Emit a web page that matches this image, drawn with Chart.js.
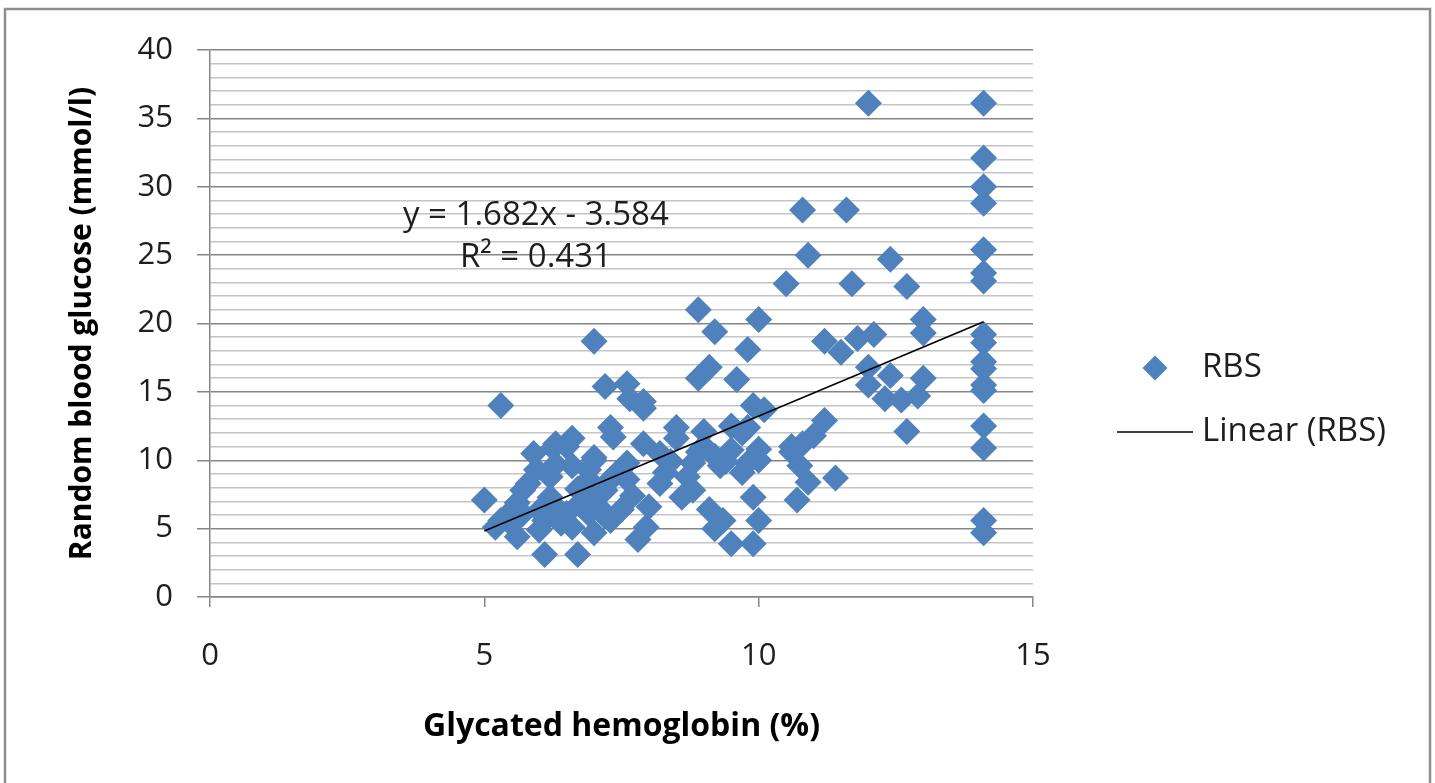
<!DOCTYPE html>
<html>
<head>
<meta charset="utf-8">
<title>RBS vs HbA1c</title>
<script src="https://cdn.jsdelivr.net/npm/chart.js@4.4.1/dist/chart.umd.min.js"></script>
<style>
  html, body { margin: 0; padding: 0; background: #fff; }
  #wrap { width: 1435px; height: 783px; }
</style>
</head>
<body>
<div id="wrap"><canvas id="scatterChart" width="1435" height="783"></canvas></div>
<script>
// glycated hemoglobin (%) and random blood glucose (mmol/l)
const hba1c = [
  14.1, 14.1, 14.1, 14.1, 14.1, 14.1, 14.1, 14.1, 14.1, 14.1, 14.1, 14.1, 14.1, 14.1, 14.1, 14.1, 14.1,
  12.0, 10.8, 11.6, 10.9, 12.4, 10.5, 11.7, 12.7, 10.0, 13.0, 13.0,
  9.8, 11.2, 11.5, 11.8, 12.1, 9.6,
  12.0, 12.0, 12.3, 12.4, 12.6, 13.0, 12.9, 12.7,
  9.9, 10.1, 11.2, 11.0, 10.8, 10.6, 11.4, 10.9, 10.7, 10.75, 9.9, 10.0, 9.9, 9.7, 9.8, 10.0, 9.7,
  8.9, 7.0, 9.2, 9.1, 8.9, 7.2, 7.6, 7.65, 7.9, 7.9,
  7.3, 8.5, 9.0, 9.5, 9.8,
  5.9, 6.3, 6.6, 7.0, 7.35, 7.9, 8.2, 8.5,
  5.3, 5.0, 6.1, 6.7,
  6.25, 7.0, 7.6, 8.8, 9.2, 9.5, 10.0,
  5.8, 6.2, 6.5, 6.75, 7.2, 7.6, 8.0, 8.2, 8.6, 8.8, 9.1, 9.35, 9.5, 9.2,
  5.3, 5.6, 6.0, 6.6, 7.0, 7.3, 7.8, 7.95, 5.2, 5.4, 5.7, 6.1, 6.3, 6.9, 7.2, 7.5,
  6.5, 5.95, 5.7, 6.2, 6.9, 7.0, 6.8,
  10.6, 8.3, 8.7, 9.3, 7.4, 6.6,
  5.6, 6.0, 6.4, 6.7, 7.1, 7.7, 6.3, 6.9, 7.3, 8.4, 8.9, 9.4, 9.0, 5.5
];
const rbs = [
  36.1, 32.1, 30.0, 28.8, 25.4, 23.7, 23.1, 19.2, 18.6, 17.2, 16.7, 15.5, 15.1, 12.5, 10.9, 5.6, 4.7,
  36.1, 28.3, 28.3, 25.0, 24.7, 22.9, 22.9, 22.7, 20.3, 20.3, 19.3,
  18.1, 18.7, 17.9, 18.9, 19.2, 15.9,
  16.8, 15.5, 14.5, 16.2, 14.4, 16.0, 14.7, 12.1,
  14.0, 13.7, 12.9, 11.8, 11.2, 10.6, 8.7, 8.4, 7.1, 9.6, 7.3, 5.6, 3.9, 9.1, 9.8, 10.8, 12.0,
  21.0, 18.7, 19.4, 16.8, 16.0, 15.4, 15.6, 14.5, 13.8, 14.3,
  12.4, 12.4, 12.1, 12.5, 12.4,
  10.5, 11.2, 11.6, 10.2, 11.7, 11.2, 10.5, 11.6,
  14.0, 7.1, 3.1, 3.1,
  10.9, 10.0, 9.8, 9.8, 10.3, 10.75, 10.0,
  8.3, 7.3, 6.1, 6.9, 7.8, 8.6, 6.6, 8.3, 7.3, 7.8, 6.4, 5.6, 3.9, 5.0,
  5.6, 4.4, 4.9, 5.1, 4.7, 5.6, 4.2, 5.1, 5.1, 5.9, 6.1, 5.6, 6.6, 6.1, 5.9, 6.4,
  11.0, 9.3, 7.8, 8.8, 8.6, 7.3, 7.6,
  11.0, 9.1, 8.8, 9.6, 9.0, 9.6,
  6.9, 6.3, 5.4, 7.9, 6.5, 7.4, 9.7, 9.3, 8.6, 9.9, 10.6, 9.9, 11.0, 5.3
];

// fitted line as shown on the chart (y = 1.682x - 3.584), ends
const trendX = [5.0, 14.1];
const trendY = [4.83, 20.13];

const xTickLabels = [0, 5, 10, 15];
const yTickLabels = [0, 5, 10, 15, 20, 25, 30, 35, 40];
const yMinorTicks = [0, 1, 2, 3, 4, 5, 6, 7, 8, 9, 10, 11, 12, 13, 14, 15, 16, 17, 18, 19, 20,
  21, 22, 23, 24, 25, 26, 27, 28, 29, 30, 31, 32, 33, 34, 35, 36, 37, 38, 39, 40];

const equationText = 'y = 1.682x - 3.584';
const rSquaredText = 'R\u00B2 = 0.431';
const eqPos = [5.94, 27.9];
const r2Pos = [5.94, 24.85];

const BLUE = '#4F81BD';
const MAJOR = '#868686';
const MINOR = '#c4c4c4';
const FONT = '"Open Sans", "DejaVu Sans", sans-serif';

const points = hba1c.map((v, i) => ({ x: v, y: rbs[i] }));
const trend = trendX.map((v, i) => ({ x: v, y: trendY[i] }));

const extras = {
  id: 'extras',
  afterDraw(chart) {
    const { ctx, scales: { x, y } } = chart;
    ctx.save();

    // outer frame
    ctx.strokeStyle = '#8e8e8e';
    ctx.lineWidth = 2.5;
    ctx.strokeRect(5, 9, 1425, 800);

    // trendline equation
    ctx.fillStyle = '#1e1e1e';
    ctx.font = '33px ' + FONT;
    ctx.textAlign = 'center';
    ctx.textBaseline = 'middle';
    ctx.fillText(equationText, x.getPixelForValue(eqPos[0]), y.getPixelForValue(eqPos[1]));
    ctx.fillText(rSquaredText, x.getPixelForValue(r2Pos[0]), y.getPixelForValue(r2Pos[1]));

    // legend
    const lx = 1155, ly1 = 368, ly2 = 432, r = 12.5;
    ctx.fillStyle = BLUE;
    ctx.beginPath();
    ctx.moveTo(lx - r, ly1);
    ctx.lineTo(lx, ly1 - r);
    ctx.lineTo(lx + r, ly1);
    ctx.lineTo(lx, ly1 + r);
    ctx.closePath();
    ctx.fill();

    ctx.strokeStyle = '#000';
    ctx.lineWidth = 1.5;
    ctx.beginPath();
    ctx.moveTo(1117, ly2);
    ctx.lineTo(1193, ly2);
    ctx.stroke();

    ctx.fillStyle = '#1e1e1e';
    ctx.textAlign = 'left';
    ctx.fillText(chart.data.datasets[1].label, 1202, ly1);
    ctx.fillText(chart.data.datasets[0].label, 1202, ly2);
    ctx.restore();
  }
};

const ctx = document.getElementById('scatterChart');

new Chart(ctx, {
  type: 'scatter',
  data: {
    datasets: [
      {
        type: 'line',
        label: 'Linear (RBS)',
        data: trend,
        borderColor: '#000',
        borderWidth: 1.5,
        pointRadius: 0,
        fill: false,
        order: 0
      },
      {
        label: 'RBS',
        data: points,
        pointStyle: 'rectRot',
        pointRadius: 13.5,
        pointHoverRadius: 13.5,
        backgroundColor: BLUE,
        borderColor: BLUE,
        borderWidth: 0,
        order: 1
      }
    ]
  },
  options: {
    responsive: false,
    animation: false,
    devicePixelRatio: 1,
    events: [],
    layout: { padding: { left: 0, top: 50, right: 402, bottom: 0 } },
    plugins: {
      legend: { display: false },
      tooltip: { enabled: false }
    },
    scales: {
      x: {
        type: 'linear',
        min: 0,
        max: 15,
        afterBuildTicks: (s) => { s.ticks = xTickLabels.map(v => ({ value: v })); },
        afterFit: (s) => { s.height = 186; },
        ticks: {
          font: { family: FONT, size: 31 },
          color: '#1e1e1e',
          padding: 31,
          maxRotation: 0
        },
        grid: {
          drawOnChartArea: false,
          tickLength: 10,
          tickColor: MAJOR,
          lineWidth: 1.5
        },
        border: { color: MAJOR, width: 1.5 },
        title: {
          display: true,
          text: 'Glycated hemoglobin (%)',
          font: { family: FONT, size: 32, weight: 'bold' },
          color: '#000',
          padding: { top: 0, bottom: 37 }
        }
      },
      y: {
        type: 'linear',
        min: 0,
        max: 40,
        afterBuildTicks: (s) => { s.ticks = yMinorTicks.map(v => ({ value: v })); },
        afterFit: (s) => { s.width = 210; },
        ticks: {
          autoSkip: false,
          font: { family: FONT, size: 31 },
          color: '#1e1e1e',
          padding: 24,
          callback: (v) => (yTickLabels.includes(v) ? v : '')
        },
        grid: {
          tickLength: 13,
          lineWidth: 1.5,
          color: (c) => (yTickLabels.includes(c.tick.value) ? MAJOR : MINOR),
          tickColor: (c) => (yTickLabels.includes(c.tick.value) ? MAJOR : 'rgba(0,0,0,0)')
        },
        border: { color: MAJOR, width: 1.5 },
        title: {
          display: true,
          text: 'Random blood glucose (mmol/l)',
          font: { family: FONT, size: 30, weight: 'bold' },
          color: '#000',
          padding: { top: 64, bottom: 0 }
        }
      }
    }
  },
  plugins: [extras]
});
</script>
</body>
</html>
